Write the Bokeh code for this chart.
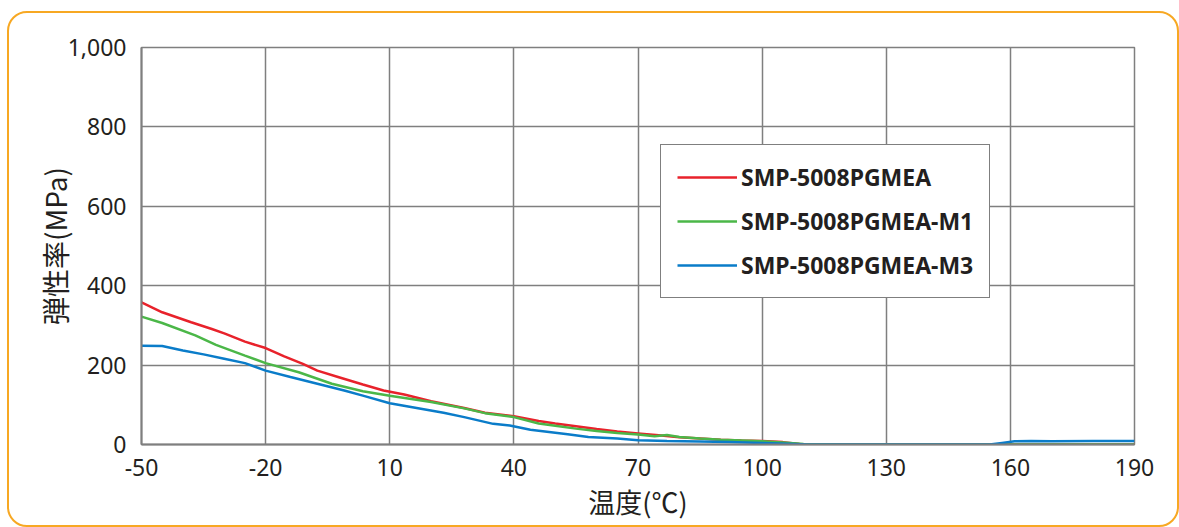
from bokeh.plotting import figure
from bokeh.models import Legend, LegendItem, NumeralTickFormatter, FixedTicker, Range1d
from bokeh.embed import file_html
from bokeh.resources import INLINE

# ---- data ----
x_ticks = [-50, -20, 10, 40, 70, 100, 130, 160, 190]
y_ticks = [0, 200, 400, 600, 800, 1000]

series_names = ["SMP-5008PGMEA", "SMP-5008PGMEA-M1", "SMP-5008PGMEA-M3"]

red_x = [-50, -45, -38, -33, -30, -25, -20, -15.5, -11, -7.5, -2.5, 3.5, 8.5, 13.5, 20, 28, 33, 40,
         46, 50, 55, 60, 65, 70, 75, 80, 85, 90, 95, 100, 105, 109, 120, 130, 140, 150, 160, 170, 180, 190]
red_y = [358, 333, 308, 291, 280, 259, 243, 222, 203, 186, 170, 151, 136, 126, 109, 92, 80, 71,
         59, 53, 46, 39, 33, 28, 23, 18, 15, 12, 10, 9, 6, 1, 0, 0, 0, 0, 0, 0, 0, 0]

green_x = [-50, -45, -37, -32, -25, -20, -12, -4, 3.5, 10, 20, 28, 33, 40,
           46, 50, 55, 60, 65, 70, 74, 77, 80, 85, 90, 95, 100, 105, 110, 120, 130, 140, 150, 160, 170, 180, 190]
green_y = [322, 306, 275, 251, 224, 205, 182, 153, 134, 123, 107, 91, 79, 69,
           53, 47, 40, 34, 29, 25, 21, 24, 19, 15, 12, 10, 8, 5, 1, 0, 0, 0, 0, 0, 0, 0, 0]

blue_x = [-50, -45, -40, -35, -30, -25, -20, -14, -7.5, -1, 3.5, 10, 16.5, 23, 28, 35, 39, 44, 49,
          53, 58, 65, 70, 77, 85, 92, 100, 106, 111, 120, 130, 140, 150, 155, 158, 161, 165, 170, 180, 190]
blue_y = [249, 248, 237, 227, 216, 205, 186, 170, 153, 136, 123, 104, 92, 80, 69, 52, 48, 37, 31,
          26, 19, 15, 11, 9, 7.5, 6, 4, 2, 0, 0, 0, 0, 0, 0, 4, 8, 9, 8.5, 9, 9]

colors = ["#E8222B", "#4BB748", "#0A7CC9"]

GRID = "#7f7f7f"
TXT = "#231F20"

p = figure(frame_width=993, frame_height=397,
           x_range=Range1d(-50, 190), y_range=Range1d(0, 1000),
           output_backend="svg", toolbar_location=None,
           min_border_left=132, min_border_right=43, min_border_top=34, min_border_bottom=81,
           border_fill_color=None, background_fill_color="white")

p.styles = {"border": "2px solid #F7A823", "border-radius": "20px",
            "margin-left": "7px", "margin-top": "11px"}

p.outline_line_color = GRID
p.outline_line_width = 1.5

r1 = p.line(red_x, red_y, line_color=colors[0], line_width=2.5)
r2 = p.line(green_x, green_y, line_color=colors[1], line_width=2.5)
r3 = p.line(blue_x, blue_y, line_color=colors[2], line_width=2.5)

for ax in (p.xaxis, p.yaxis):
    ax.axis_line_color = GRID
    ax.axis_line_width = 2
    ax.major_tick_line_color = None
    ax.minor_tick_line_color = None
    ax.major_label_text_font = "Noto Sans"
    ax.major_label_text_font_size = "23px"
    ax.major_label_text_color = TXT
    ax.axis_label_text_font = "Noto Sans CJK JP"
    ax.axis_label_text_font_style = "normal"
    ax.axis_label_text_color = TXT

p.xaxis.axis_label_text_font_size = "27px"
p.yaxis.axis_label_text_font_size = "28px"

p.xaxis.ticker = FixedTicker(ticks=x_ticks)
p.yaxis.ticker = FixedTicker(ticks=y_ticks)
p.xaxis.major_label_overrides = {t: str(t) for t in x_ticks}
p.yaxis.formatter = NumeralTickFormatter(format="0,0")
p.xaxis.major_label_standoff = 8
p.yaxis.major_label_standoff = 9
p.xaxis.axis_label = "温度(℃)"
p.yaxis.axis_label = "弾性率(MPa)"
p.xaxis.axis_label_standoff = 3
p.yaxis.axis_label_standoff = -10

p.xgrid.grid_line_color = GRID
p.ygrid.grid_line_color = GRID
p.xgrid.grid_line_width = 1.5
p.ygrid.grid_line_width = 1.5

legend = Legend(items=[LegendItem(label=series_names[0], renderers=[r1]),
                       LegendItem(label=series_names[1], renderers=[r2]),
                       LegendItem(label=series_names[2], renderers=[r3])],
                location=(519, 146))
legend.border_line_color = "black"
legend.border_line_width = 1
legend.background_fill_color = "white"
legend.background_fill_alpha = 1
legend.padding = 16
legend.margin = 0
legend.spacing = 12
legend.glyph_width = 60
legend.glyph_height = 24
legend.label_height = 24
legend.label_standoff = 4
legend.label_text_font = "Noto Sans"
legend.label_text_font_style = "bold"
legend.label_text_font_size = "23px"
legend.label_text_color = TXT
p.add_layout(legend)

open("out.html", "w").write(file_html(p, INLINE))
